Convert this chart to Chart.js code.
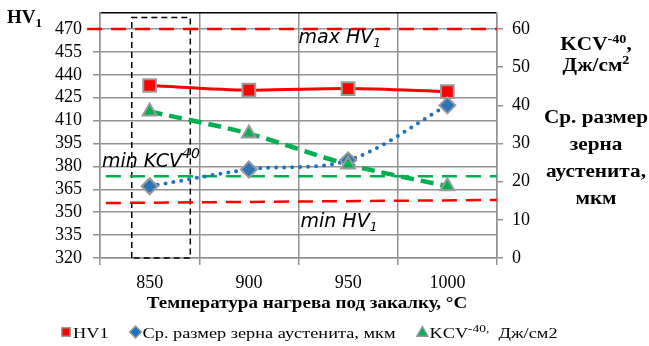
<!DOCTYPE html>
<html lang="ru">
<head>
<meta charset="UTF-8">
<title>HV1, KCV-40 и размер зерна аустенита</title>
<script src="https://cdn.jsdelivr.net/npm/chart.js"></script>
<style>
  html, body { margin: 0; padding: 0; background: #fff; }
  #grafik { display: block; }
</style>
</head>
<body>
<canvas id="grafik" width="649" height="346"></canvas>
<script>
// температура нагрева под закалку, °C
const temperatures = ['850', '900', '950', '1000'];
// твердость HV1 (левая ось)
const hv1 = [433, 430, 431, 429];
// ср. размер зерна аустенита, мкм (правая ось)
const grainSize = [18.8, 23.2, 25.6, 40];
// KCV-40, Дж/см2 (правая ось)
const kcv = [38.4, 32.6, 24.5, 18.8];

// деления левой оси
const hvTicks = [320, 335, 350, 365, 380, 395, 410, 425, 440, 455, 470];
const hvMin = 320, hvMax = 480.5;
// правая ось
const rightMin = 0, rightMax = 64.2, rightStep = 10;

// предельные линии (x - по скрытой оси 0..4 из ширины категорий)
const maxHvLine = [{x: -0.13, y: 470}, {x: 4, y: 470}];
const minHvLine = [{x: 0.06, y: 356}, {x: 4, y: 358}];
const minKcvLine = [{x: 0.06, y: 21.4}, {x: 4, y: 21.4}];
// пунктирная рамка вокруг 850 °C
const boxLine = [{x: 0.32, y: 320}, {x: 0.32, y: 477.5}, {x: 0.91, y: 477.5}, {x: 0.91, y: 320}, {x: 0.32, y: 320}];

// подписи внутри графика (x по скрытой оси, y - базовая линия по левой оси)
const notes = [
  {text: 'max HV', sub: '1', x: 2.0, y: 461},
  {text: 'min HV', sub: '1', x: 2.02, y: 340.5},
  {text: 'min KCV', sup: '40', x: 0.02, y: 379.8}
];

const serif = "'Liberation Serif', 'Times New Roman', serif";
const sans = "'DejaVu Sans', sans-serif";
const gridColor = '#929292';
const red = '#ff0000', blue = '#1f72c0', green = '#00b050', edge = '#9a9a9a';

// рисует строку из кусков с разными шрифтами (для индексов), sx - растяжение по горизонтали
function drawRuns(ctx, runs, x, y, sx, measureOnly) {
  sx = sx || 1;
  let cx = 0;
  ctx.save();
  ctx.translate(x, y);
  ctx.scale(sx, 1);
  runs.forEach(r => {
    ctx.font = r.font;
    if (!measureOnly) ctx.fillText(r.t, cx, r.dy || 0);
    cx += ctx.measureText(r.t).width;
  });
  ctx.restore();
  return cx * sx;
}
function drawCentered(ctx, runs, cx, y, sx) {
  const w = drawRuns(ctx, runs, 0, 0, sx, true);
  drawRuns(ctx, runs, cx - w / 2, y, sx);
}

const textPlugin = {
  id: 'texts',
  afterDraw(chart) {
    const ctx = chart.ctx;
    const xl = chart.scales.xl, y = chart.scales.y;
    ctx.save();
    ctx.fillStyle = '#000';
    ctx.textBaseline = 'alphabetic';
    ctx.textAlign = 'left';

    // подписи предельных линий
    notes.forEach(n => {
      const px = xl.getPixelForValue(n.x), py = y.getPixelForValue(n.y);
      const runs = [{t: n.text, font: 'italic 19px ' + sans}];
      if (n.sub) runs.push({t: n.sub, font: 'italic 12px ' + sans, dy: 4});
      if (n.sup) runs.push({t: n.sup, font: 'italic 14px ' + sans, dy: -9});
      drawRuns(ctx, runs, px, py);
    });

    // заголовок левой оси
    drawRuns(ctx, [{t: 'HV', font: 'bold 19px ' + serif}, {t: '1', font: 'bold 13px ' + serif, dy: 4}], 7, 23);

    // заголовок правой оси
    const rx = 596, st = 1.18;
    drawCentered(ctx, [{t: 'KCV', font: 'bold 18px ' + serif}, {t: '-40', font: 'bold 12px ' + serif, dy: -7}, {t: ',', font: 'bold 18px ' + serif}], rx, 50, st);
    drawCentered(ctx, [{t: 'Дж/см', font: 'bold 18px ' + serif}, {t: '2', font: 'bold 12px ' + serif, dy: -7}], rx, 71, st);
    ['Ср. размер', 'зерна', 'аустенита,', 'мкм'].forEach((s, i) => {
      drawCentered(ctx, [{t: s, font: 'bold 18px ' + serif}], rx, 123 + i * 27, st);
    });

    // заголовок оси X
    drawCentered(ctx, [{t: 'Температура нагрева под закалку, °C', font: 'bold 16px ' + serif}], 307, 308, 1.19);

    // легенда
    const ly = 333, ls = 1.22;
    const items = [
      {style: 'rect', r: 6, color: red, runs: [{t: 'HV1', font: '15px ' + serif}]},
      {style: 'rectRot', r: 6, color: blue, runs: [{t: 'Ср. размер зерна аустенита, мкм', font: '15px ' + serif}]},
      {style: 'triangle', r: 6.5, color: green, runs: [{t: 'KCV', font: '15px ' + serif}, {t: '-40,', font: '11px ' + serif, dy: -6}, {t: '  Дж/см2', font: '15px ' + serif}]}
    ];
    let lx = 61;
    items.forEach(it => {
      ctx.fillStyle = it.color;
      ctx.strokeStyle = edge;
      ctx.lineWidth = 1.5;
      Chart.helpers.drawPoint(ctx, {pointStyle: it.style, radius: it.r, rotation: 0, borderWidth: 1.5}, lx + 5, ly - 1 + (it.style === 'triangle' ? 1 : 0));
      ctx.fillStyle = '#000';
      const w = drawRuns(ctx, it.runs, lx + 12, ly + 5, ls);
      lx += 12 + w + 22;
    });
    ctx.restore();
  }
};

// убираем лишние поля, которые Chart.js оставляет под подписи
function noPad(s) { s.paddingTop = 0; s.paddingBottom = 0; s.paddingLeft = 0; s.paddingRight = 0; }

const ctx = document.getElementById('grafik').getContext('2d');
new Chart(ctx, {
  type: 'line',
  data: {
    labels: temperatures,
    datasets: [
      {
        label: 'KCV-40, Дж/см2', data: kcv, xAxisID: 'x', yAxisID: 'y1', order: 1,
        borderColor: green, borderWidth: 4.5, borderDash: [13, 7], tension: 0.3,
        pointStyle: 'triangle', pointRadius: 8, pointBackgroundColor: green,
        pointBorderColor: edge, pointBorderWidth: 2
      },
      {
        label: 'Ср. размер зерна аустенита, мкм', data: grainSize, xAxisID: 'x', yAxisID: 'y1', order: 2,
        borderColor: blue, borderWidth: 4, borderDash: [0, 8], borderCapStyle: 'round', tension: 0.35,
        pointStyle: 'rectRot', pointRadius: 8, pointBackgroundColor: '#2c74b5',
        pointBorderColor: edge, pointBorderWidth: 2
      },
      {
        label: 'HV1', data: hv1, xAxisID: 'x', yAxisID: 'y', order: 3,
        borderColor: red, borderWidth: 3, tension: 0.3,
        pointStyle: 'rect', pointRadius: 9, pointBackgroundColor: red,
        pointBorderColor: edge, pointBorderWidth: 2
      },
      {
        label: 'max HV1', data: maxHvLine, xAxisID: 'xl', yAxisID: 'y', order: 5, clip: false,
        borderColor: red, borderWidth: 2.5, borderDash: [15, 9], pointRadius: 0
      },
      {
        label: 'min HV1', data: minHvLine, xAxisID: 'xl', yAxisID: 'y', order: 6,
        borderColor: red, borderWidth: 2.5, borderDash: [15, 9], pointRadius: 0
      },
      {
        label: 'min KCV-40', data: minKcvLine, xAxisID: 'xl', yAxisID: 'y1', order: 7,
        borderColor: green, borderWidth: 2.5, borderDash: [15, 9], pointRadius: 0
      },
      {
        label: 'рамка', data: boxLine, xAxisID: 'xl', yAxisID: 'y', order: 8, clip: false,
        borderColor: '#000', borderWidth: 1.5, borderDash: [6, 4], pointRadius: 0, tension: 0
      }
    ]
  },
  options: {
    responsive: false,
    animation: false,
    layout: { padding: { top: 13, left: 0, right: 0, bottom: 0 } },
    plugins: { legend: { display: false }, tooltip: { enabled: false } },
    scales: {
      x: {
        type: 'category', position: 'bottom', offset: true,
        grid: { offset: true, color: gridColor, lineWidth: 1.5, tickLength: 7 },
        border: { color: gridColor, width: 1.5 },
        ticks: { color: '#000', font: { family: serif, size: 18 }, padding: 7, maxRotation: 0, autoSkip: false },
        afterFit: s => { s.height = 88; noPad(s); }
      },
      xl: { type: 'linear', display: false, min: 0, max: 4 },
      y: {
        position: 'left', min: hvMin, max: hvMax,
        afterBuildTicks: s => { s.ticks = hvTicks.concat([hvMax]).map(v => ({ value: v })); },
        grid: {
          color: c => (c.tick && c.tick.value === hvMax) ? '#000' : gridColor,
          tickColor: c => (c.tick && c.tick.value === hvMax) ? 'rgba(0,0,0,0)' : gridColor,
          lineWidth: 1.5, tickLength: 7
        },
        border: { color: gridColor, width: 1.5 },
        ticks: {
          color: '#000', font: { family: serif, size: 18 }, padding: 11, autoSkip: false,
          callback: v => hvTicks.includes(v) ? String(v) : ''
        },
        afterFit: s => { s.width = 100; noPad(s); }
      },
      y1: {
        position: 'right', min: rightMin, max: rightMax,
        grid: { drawOnChartArea: false, color: gridColor, lineWidth: 1.5, tickLength: 6 },
        border: { color: gridColor, width: 1.5 },
        ticks: { stepSize: rightStep, includeBounds: false, autoSkip: false, color: '#000', font: { family: serif, size: 18 }, padding: 9 },
        afterFit: s => { s.width = 152; noPad(s); }
      }
    }
  },
  plugins: [textPlugin]
});
</script>
</body>
</html>
